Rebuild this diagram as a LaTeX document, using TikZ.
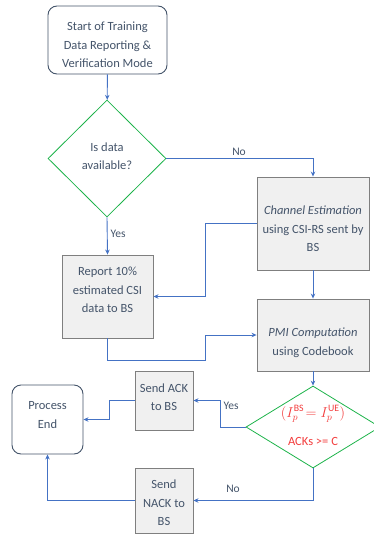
\documentclass[tikz,border=0pt]{standalone}
\usepackage{fontspec}
\setmainfont{Carlito}
\usetikzlibrary{shapes.geometric,arrows.meta}
\definecolor{txt}{HTML}{44546A}
\definecolor{flow}{HTML}{4472C4}
\definecolor{decide}{HTML}{1DB34A}
\definecolor{boxline}{HTML}{7F7F7F}
\definecolor{boxfill}{HTML}{F0F0F0}
\definecolor{cond}{HTML}{F23C3C}
\tikzset{
  lbl/.style={text=txt,font=\fontsize{12.5}{18.5}\selectfont,align=center,inner sep=0pt},
  termbox/.style={draw=txt,line width=0.9pt,rounded corners=9pt,fill=white,inner sep=0pt},
  procbox/.style={draw=boxline,line width=0.9pt,fill=boxfill,inner sep=0pt},
  decbox/.style={draw=decide,line width=0.8pt,diamond,aspect=1,inner sep=0pt},
  conn/.style={draw=flow,line width=0.9pt,-{Stealth[length=5pt,width=4.5pt]}},
  edgelbl/.style={text=txt,font=\fontsize{11.5}{13}\selectfont,inner sep=0pt}
}
\begin{document}
\begin{tikzpicture}[x=1pt,y=-1pt]
\useasboundingbox (0,0) rectangle (374,536);

% shapes
\node[termbox,minimum width=119pt,minimum height=68pt] (start) at (107.5,40) {};
\node[decbox,minimum width=118pt,minimum height=117pt] (d1) at (107,158.5) {};
\node[procbox,minimum width=112pt,minimum height=93pt] (ce) at (313,223.5) {};
\node[procbox,minimum width=91pt,minimum height=83pt] (rep) at (107.5,296.5) {};
\node[procbox,minimum width=112pt,minimum height=72pt] (pmi) at (313,335) {};
\node[decbox,minimum width=134pt,minimum height=82pt] (d2) at (313,427) {};
\node[procbox,minimum width=58pt,minimum height=59pt] (ack) at (164,400.5) {};
\node[termbox,minimum width=71pt,minimum height=69pt] (pe) at (47.5,419.5) {};
\node[procbox,minimum width=58pt,minimum height=65pt] (nack) at (164,500.5) {};

% texts inside the shapes
\node[lbl] (start-t) at (107.5,45) {Start of Training\\Data Reporting \&\\Verification Mode};
\node[lbl] (d1-t) at (107,156) {Is data\\available?};
\node[lbl] (ce-t) at (313,229) {\textit{Channel Estimation}\\using CSI-RS sent by\\BS};
\node[lbl] (rep-t) at (107.5,290) {Report 10\%\\estimated CSI\\data to BS};
\node[lbl] (pmi-t) at (313,343) {\textit{PMI Computation}\\using Codebook};
\node[lbl] (ack-t) at (164,397) {Send ACK\\to BS};
\node[lbl] (pe-t) at (47.5,415) {Process\\End};
\node[lbl] (nack-t) at (164,503) {Send\\NACK to\\BS};
\node[lbl,text=cond,font=\fontsize{14}{16}\selectfont] (d2-m) at (313,414)
  {$\bigl(I_p^{\mathrm{BS}}\!=I_p^{\mathrm{UE}}\bigr)$};
\node[lbl,text=cond] (d2-t) at (313,441) {ACKs >= C};

% junction points of the elbow connectors
\coordinate (j1) at (205,223.5);
\coordinate (j2) at (205,360);
\coordinate (j3) at (220,427);
\coordinate (j4) at (109,400.5);

% connectors
\draw[conn] (start) -- (d1);
\draw[conn] (d1.east) -| (ce.north);
\draw[conn] (d1.south) -- (rep.north);
\draw[conn] (ce.west) -- (j1) |- (rep.east);
\draw[conn] (ce.south) -- (pmi.north);
\draw[conn] (rep.south) |- (j2) |- (pmi.west);
\draw[conn] (pmi.south) -- (d2.north);
\draw[conn] (d2.west) -- (j3) |- (ack.east);
\draw[conn] (ack.west) -- (j4) |- (pe.east);
\draw[conn] (d2.south) |- (nack.east);
\draw[conn] (nack.west) -| (pe.south);

% connector labels
\node[edgelbl] (lno1) at (239,152) {No};
\node[edgelbl] (lyes1) at (118,234) {Yes};
\node[edgelbl] (lyes2) at (231,406) {Yes};
\node[edgelbl] (lno2) at (233,489) {No};
\end{tikzpicture}
\end{document}
